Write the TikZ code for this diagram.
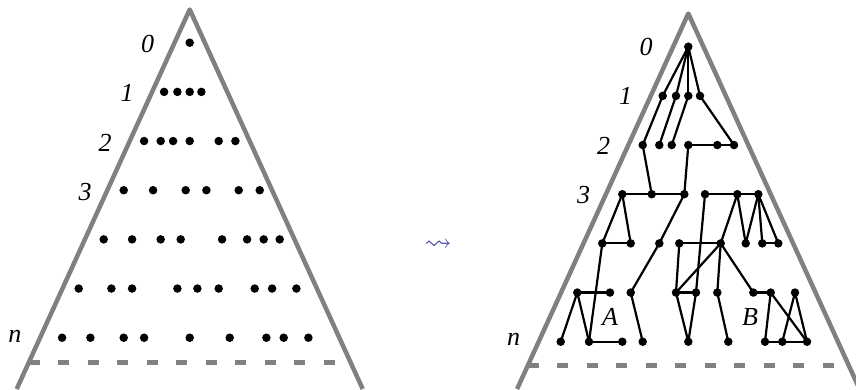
\documentclass[tikz,border=0pt]{standalone}
\usepackage{fontspec}
\setmainfont{Liberation Serif}
\usepackage{amssymb}
\definecolor{LegGray}{RGB}{128,128,128}
\definecolor{SquigBlue}{RGB}{60,60,170}

\begin{document}
\begin{tikzpicture}[
    x=1pt, y=-1pt,
    leg/.style={draw=LegGray, line width=4.5pt, line join=round},
    cut/.style={draw=LegGray, line width=5pt, dash pattern=on 11pt off 18.5pt},
    dot/.style={circle, fill=black, inner sep=0pt, minimum size=8.5pt},
    edge/.style={line width=2.2pt},
    lvl/.style={font=\fontsize{26}{30}\selectfont\itshape, anchor=base, inner sep=0pt}]
  \useasboundingbox (0,0) rectangle (856,389);
  % the two triangles and their cut lines
  \draw[leg] (16.7,389) -- (189.7,9.5) -- (362.7,389);
  \draw[leg] (517.1,389) -- (688.3,13.5) -- (859.5,389);
  \draw[cut] (28.7,362.7) -- (350.7,362.7);
  \draw[cut] (527.7,365.7) -- (848.9,365.7);
  % dots, row by row (L = left, R = right)
  \foreach \r/\xs in {0/{0}, 1/{-25.6,-12.3,0,11.7}, 2/{-45.6,-29,-16.6,0,29,45.7},
      3/{-66,-36.6,-4,16.7,49,70}, 4/{-86,-57.6,-29,-9,32.4,57.4,74,90},
      5/{-111,-78.3,-57.6,-12.3,7.7,29,65,82.4,106.7},
      6/{-127.6,-99.3,-66,-45.6,0,40,76.7,94,118.7}}
    \foreach \x [count=\i] in \xs {
      \node[dot] (L\r-\i) at ({189.7+(\x)}, {42.7+49.17*\r}) {};
      \node[dot] (R\r-\i) at ({688.3+(\x)}, {46.7+49.17*\r}) {};
    }
  % level labels
  \node[lvl] (l0) at (147.5,52) {0};
  \node[lvl] (l1) at (127,101) {1};
  \node[lvl] (l2) at (105,151) {2};
  \node[lvl] (l3) at (85,200) {3};
  \node[lvl] (ln) at (15,342.7) {n};
  \node[lvl] (r0) at (646,55) {0};
  \node[lvl] (r1) at (625.6,104) {1};
  \node[lvl] (r2) at (603.6,154) {2};
  \node[lvl] (r3) at (583.6,203) {3};
  \node[lvl] (rn) at (513.6,345.7) {n};
  \node[lvl] (ca) at (610,325) {A};
  \node[lvl] (cb) at (750,325) {B};
  % edges of the right picture
  \foreach \a/\b in {0-1/1-1,0-1/1-2,0-1/1-3,0-1/1-4,
      1-1/2-1,1-2/2-2,1-3/2-3,1-4/2-6,2-4/2-5,2-5/2-6,
      2-1/3-2,2-4/3-3,3-1/3-2,3-2/3-3,3-4/3-5,3-5/3-6,
      3-1/4-1,3-1/4-2,4-1/4-2,3-3/4-3,4-3/5-3,5-3/6-4,4-1/6-2,
      5-1/5-2,5-1/6-1,5-1/6-2,6-2/6-3,3-4/5-5,
      3-5/4-5,3-5/4-6,3-6/4-6,3-6/4-7,3-6/4-8,4-7/4-8,
      4-4/4-5,4-4/5-4,4-5/5-4,4-5/5-6,4-5/5-7,
      5-4/5-5,5-4/6-5,5-5/6-5,5-6/6-6,
      5-7/5-8,5-8/6-7,5-8/6-9,5-9/6-8,5-9/6-9,6-7/6-8,6-8/6-9}
    \draw[edge] (R\a.center) -- (R\b.center);
  % the step between the two pictures
  \node[text=SquigBlue, font=\fontsize{27}{27}\selectfont] (step) at (438,245) {$\rightsquigarrow$};
\end{tikzpicture}
\end{document}
